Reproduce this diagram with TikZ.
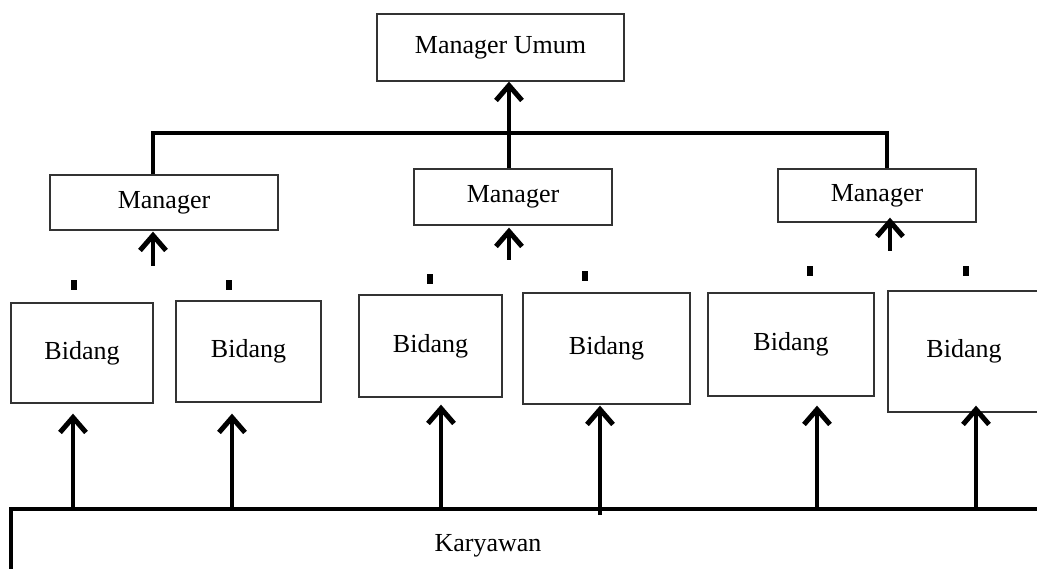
\documentclass[tikz,border=0pt]{standalone}
\usepackage{fontspec}
\setmainfont{Liberation Serif}
\usetikzlibrary{arrows.meta}
\begin{document}
\begin{tikzpicture}[x=1pt, y=-1pt, font=\fontsize{26}{30}\selectfont,
box_style/.style={draw=black!80, line width=1.3pt, inner sep=0pt},
bar_style/.style={draw=black, line width=4pt},
arrow_style/.style={draw=black, line width=4pt, -{Straight Barb[length=15pt,width=26pt,line width=5pt]}},
dot_style/.style={fill=black, inner sep=0pt, minimum width=6pt, minimum height=10pt}]
\useasboundingbox (0,0) rectangle (1037,569);
% top
\node[box_style, minimum width=247pt, minimum height=67pt] (mu) at (500.5,47.5) {Manager Umum};
% managers
\node[box_style, minimum width=228pt, minimum height=55pt] (m1) at (164,202.5) {Manager};
\node[box_style, minimum width=198pt, minimum height=56pt] (m2) at (513,197) {Manager};
\node[box_style, minimum width=198pt, minimum height=53pt] (m3) at (877,195.5) {Manager};
% bidang
\node[box_style, minimum width=142pt, minimum height=100pt] (b1) at (82,353) {Bidang};
\node[box_style, minimum width=145pt, minimum height=101pt] (b2) at (248.5,351.5) {Bidang};
\node[box_style, minimum width=143pt, minimum height=102pt] (b3) at (430.5,346) {Bidang};
\node[box_style, minimum width=167pt, minimum height=111pt] (b4) at (606.5,348.5) {Bidang};
\node[box_style, minimum width=166pt, minimum height=103pt] (b5) at (791,344.5) {Bidang};
\node[box_style, minimum width=152pt, minimum height=121pt] (b6) at (964,351.5) {Bidang};
% dots
\node[dot_style] (d1) at (74,285) {};
\node[dot_style] (d2) at (229,285) {};
\node[dot_style] (d3) at (430,279) {};
\node[dot_style] (d4) at (585,276) {};
\node[dot_style] (d5) at (810,271) {};
\node[dot_style] (d6) at (966,271) {};
% karyawan
\node (kar) at (488,546) {Karyawan};
\coordinate (kl) at (11,509);
\coordinate (kr) at (1037,509);
\draw[bar_style] (kr) -- (kl) -- (11,569);
% top bar
\coordinate (jl) at (153,133);
\coordinate (jm) at (509,133);
\coordinate (jr) at (887,133);
\draw[bar_style] (jl |- m1.north) -- (jl) -- (jr) -- (jr |- m3.north);
\draw[arrow_style] (jm |- m2.north) -- (jm |- mu.south);
% manager arrows
\coordinate (t1) at (153,266);
\coordinate (t2) at (509,260);
\coordinate (t3) at (890,251);
\draw[arrow_style, shorten >=1pt] (t1) -- (t1 |- m1.south);
\draw[arrow_style, shorten >=2pt] (t2) -- (t2 |- m2.south);
\draw[arrow_style, shorten >=-5pt] (t3) -- (t3 |- m3.south);
% karyawan arrows
\coordinate (k1) at (73,509);
\coordinate (k2) at (232,509);
\coordinate (k3) at (441,509);
\coordinate (k4) at (600,515);
\coordinate (k5) at (817,509);
\coordinate (k6) at (976,509);
\draw[arrow_style, shorten >=10pt] (k1) -- (k1 |- b1.south);
\draw[arrow_style, shorten >=11pt] (k2) -- (k2 |- b2.south);
\draw[arrow_style, shorten >=7pt] (k3) -- (k3 |- b3.south);
\draw[arrow_style, shorten >=1pt] (k4) -- (k4 |- b4.south);
\draw[arrow_style, shorten >=9pt] (k5) -- (k5 |- b5.south);
\draw[arrow_style, shorten >=-7pt] (k6) -- (k6 |- b6.south);
\end{tikzpicture}
\end{document}
